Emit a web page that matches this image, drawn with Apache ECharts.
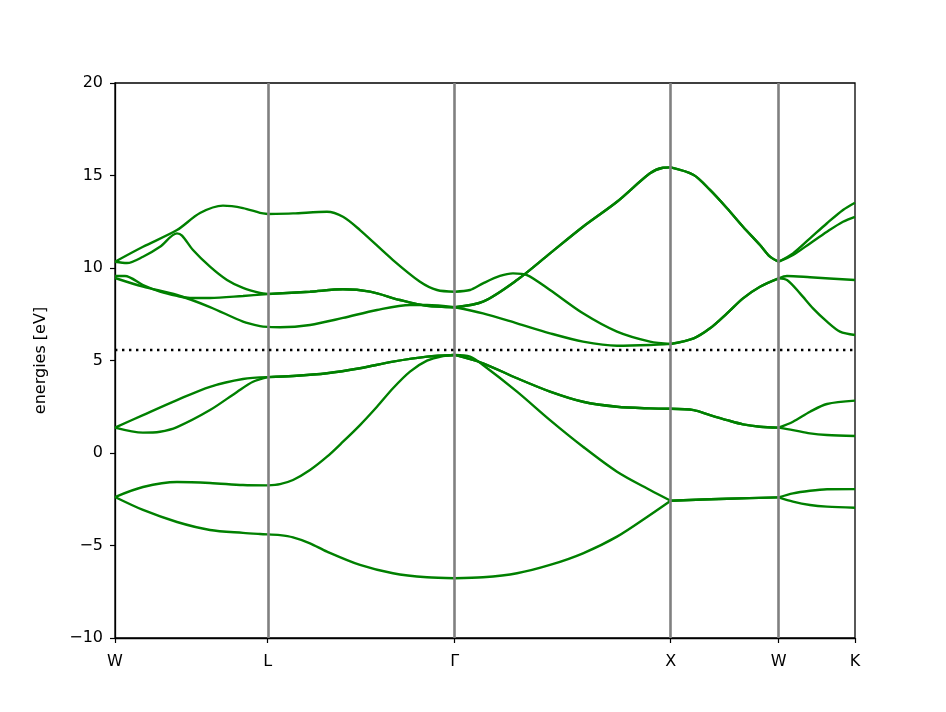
<!DOCTYPE html>
<html>
<head>
<meta charset="utf-8">
<script src="https://cdn.jsdelivr.net/npm/echarts@6/dist/echarts.min.js"></script>
<style>
  html, body { margin: 0; padding: 0; background: #ffffff; }
  #chart { width: 946px; height: 712px; }
</style>
</head>
<body>
<div id="chart"></div>
<script>
// High-symmetry points along the k-path (units of 2π/a)
const kTicks = [0, 0.7071, 1.5731, 2.5731, 3.0731, 3.4267];
const kLabels = ['W', 'L', 'Γ', 'X', 'W', 'K'];
const yTicks = [-10, -5, 0, 5, 10, 15, 20];
const fermiLevel = 5.56;

// Bands: [k, energy (eV)]
const band1 = [[0,-2.38],[0.1297,-3.08],[0.2871,-3.73],[0.4399,-4.16],[0.5927,-4.32],[0.6715,-4.38],[0.7071,-4.40],[0.7641,-4.44],[0.8243,-4.56],[0.903,-4.88],[0.9817,-5.33],[1.1345,-6.05],[1.2873,-6.5],[1.4448,-6.72],[1.5731,-6.77],[1.704,-6.72],[1.8615,-6.5],[2.0144,-6.05],[2.1672,-5.42],[2.3246,-4.52],[2.4774,-3.35],[2.5731,-2.58],[2.834,-2.47],[3.0731,-2.40],[3.1396,-2.63],[3.2183,-2.81],[3.297,-2.90],[3.4267,-2.96]];
const band2 = [[0,-2.38],[0.1297,-1.84],[0.2871,-1.57],[0.4399,-1.62],[0.5927,-1.73],[0.7071,-1.75],[0.7641,-1.68],[0.8243,-1.46],[0.903,-0.92],[0.9817,-0.20],[1.0558,0.61],[1.1345,1.51],[1.2132,2.50],[1.2873,3.50],[1.3661,4.40],[1.4448,4.99],[1.5189,5.24],[1.5731,5.30],[1.6438,5.21],[1.704,4.76],[1.8615,3.32],[2.0144,1.78],[2.1672,0.34],[2.3246,-1.01],[2.4774,-2.00],[2.5731,-2.58],[2.834,-2.47],[3.0731,-2.40],[3.1396,-2.18],[3.2183,-2.04],[3.297,-1.96],[3.4267,-1.95]];
const band3 = [[0,1.37],[0.1297,1.10],[0.2084,1.15],[0.2871,1.40],[0.4399,2.32],[0.5649,3.30],[0.639,3.85],[0.7071,4.10],[0.8243,4.16],[0.9817,4.31],[1.1345,4.58],[1.2873,4.94],[1.4448,5.21],[1.5731,5.30],[1.704,4.85],[1.8615,4.04],[2.0144,3.32],[2.1672,2.77],[2.3246,2.50],[2.4774,2.41],[2.5731,2.39],[2.6797,2.32],[2.7553,2.05],[2.834,1.78],[2.9081,1.55],[2.9868,1.42],[3.0731,1.37],[3.1396,1.24],[3.2183,1.06],[3.297,0.97],[3.4267,0.92]];
const band4 = [[0,1.37],[0.1297,2.05],[0.2871,2.86],[0.4399,3.58],[0.5927,4.00],[0.7071,4.10],[0.8243,4.16],[0.9817,4.31],[1.1345,4.58],[1.2873,4.94],[1.4448,5.21],[1.5731,5.30],[1.704,4.85],[1.8615,4.04],[2.0144,3.32],[2.1672,2.77],[2.3246,2.50],[2.4774,2.41],[2.5731,2.39],[2.6797,2.32],[2.7553,2.05],[2.834,1.78],[2.9081,1.55],[2.9868,1.42],[3.0731,1.37],[3.1396,1.69],[3.2183,2.23],[3.297,2.65],[3.4267,2.83]];
const band5 = [[0,9.46],[0.1297,8.99],[0.2871,8.54],[0.4399,7.89],[0.5927,7.10],[0.6715,6.86],[0.7071,6.82],[0.7641,6.80],[0.903,6.92],[1.0558,7.30],[1.2132,7.73],[1.3661,8.00],[1.4448,8.00],[1.5731,7.88],[1.704,7.55],[1.8615,7.01],[2.0144,6.47],[2.1672,6.02],[2.3246,5.80],[2.4774,5.84],[2.5731,5.90],[2.6797,6.20],[2.7553,6.74],[2.834,7.55],[2.9081,8.36],[2.9868,8.99],[3.0731,9.44],[3.1118,9.35],[3.172,8.63],[3.2322,7.82],[3.297,7.10],[3.3572,6.56],[3.4267,6.38]];
const band6 = [[0,9.57],[0.0463,9.57],[0.1297,9.08],[0.2084,8.72],[0.2871,8.49],[0.3473,8.38],[0.4399,8.38],[0.5927,8.49],[0.7071,8.59],[0.903,8.72],[1.0558,8.85],[1.1808,8.72],[1.3197,8.27],[1.4448,7.95],[1.5731,7.88],[1.704,8.18],[1.8615,9.35],[2.0144,10.79],[2.1672,12.23],[2.3246,13.58],[2.4774,15.12],[2.5376,15.42],[2.5731,15.44],[2.6797,15.03],[2.7553,14.22],[2.834,13.23],[2.9081,12.23],[2.9868,11.24],[3.0331,10.61],[3.0731,10.34],[3.1396,10.70],[3.2183,11.33],[3.297,11.96],[3.3711,12.50],[3.4267,12.77]];
const band7 = [[0,10.34],[0.0556,10.27],[0.1297,10.61],[0.2084,11.15],[0.2871,11.87],[0.3103,11.75],[0.3612,10.97],[0.4399,10.07],[0.5186,9.35],[0.5927,8.92],[0.6715,8.65],[0.7071,8.60],[0.903,8.72],[1.0558,8.85],[1.1808,8.72],[1.3197,8.27],[1.4448,7.95],[1.5731,7.88],[1.704,8.18],[1.8615,9.35],[2.0144,10.79],[2.1672,12.23],[2.3246,13.58],[2.4774,15.12],[2.5376,15.42],[2.5731,15.44],[2.6797,15.03],[2.7553,14.22],[2.834,13.23],[2.9081,12.23],[2.9868,11.24],[3.0331,10.61],[3.0731,10.34],[3.1396,10.79],[3.2183,11.60],[3.297,12.42],[3.3711,13.14],[3.4267,13.53]];
const band8 = [[0,10.34],[0.1297,11.15],[0.2871,12.05],[0.3936,12.97],[0.5001,13.37],[0.5927,13.24],[0.6715,12.98],[0.7071,12.92],[0.8243,12.95],[0.9817,13.04],[1.0558,12.77],[1.1345,12.05],[1.2873,10.43],[1.4124,9.26],[1.4911,8.81],[1.5731,8.72],[1.6438,8.81],[1.704,9.17],[1.7828,9.57],[1.843,9.71],[1.9079,9.62],[2.0144,8.81],[2.1672,7.55],[2.3246,6.56],[2.4774,6.02],[2.5731,5.89],[2.6797,6.20],[2.7553,6.74],[2.834,7.55],[2.9081,8.36],[2.9868,8.99],[3.0731,9.44],[3.1118,9.57],[3.2183,9.50],[3.4267,9.35]];

const bands = [band1, band2, band3, band4, band5, band6, band7, band8];

const FONT = 'DejaVu Sans';
const chart = echarts.init(document.getElementById('chart'), null, { renderer: 'canvas' });

// Split every band at the high-symmetry points so that smoothing never crosses them
const bandSeries = [];
bands.forEach((b, i) => {
  for (let s = 0; s < kTicks.length - 1; s++) {
    const lo = kTicks[s] - 1e-6, hi = kTicks[s + 1] + 1e-6;
    const seg = b.filter(p => p[0] >= lo && p[0] <= hi);
    bandSeries.push({
      type: 'line',
      name: 'band' + (i + 1),
      data: seg,
      showSymbol: false,
      smooth: 0.3,
      lineStyle: { color: '#008000', width: 2.4 },
      z: 3,
      silent: true
    });
  }
});

const guideSeries = {
  type: 'line',
  data: [],
  z: 2,
  silent: true,
  markLine: {
    silent: true,
    symbol: ['none', 'none'],
    animation: false,
    label: { show: false },
    data: kTicks.slice(1, kTicks.length - 1).map(k => ({
      xAxis: k,
      lineStyle: { color: '#808080', width: 2.6, type: 'solid' }
    })).concat([{
      yAxis: fermiLevel,
      lineStyle: { color: '#000000', width: 2.4, type: [2.4, 4.6] }
    }])
  }
};

chart.setOption({
  animation: false,
  backgroundColor: '#ffffff',
  grid: {
    left: 115, right: 91, top: 83, bottom: 74,
    show: true, borderColor: '#000000', borderWidth: 1.3,
    backgroundColor: 'transparent'
  },
  xAxis: {
    type: 'value',
    min: kTicks[0],
    max: kTicks[kTicks.length - 1],
    splitLine: { show: false },
    axisLine: { show: true, onZero: false, lineStyle: { color: '#000', width: 1.3 } },
    axisTick: { show: true, customValues: kTicks, length: 5, lineStyle: { color: '#000', width: 1.2 } },
    axisLabel: {
      customValues: kTicks,
      margin: 16,
      color: '#000',
      fontFamily: FONT,
      fontSize: 16,
      formatter: function (v) {
        let best = 0, d = Infinity;
        kTicks.forEach((k, i) => { if (Math.abs(k - v) < d) { d = Math.abs(k - v); best = i; } });
        return kLabels[best];
      }
    }
  },
  yAxis: {
    type: 'value',
    min: yTicks[0],
    max: yTicks[yTicks.length - 1],
    interval: 5,
    name: 'energies [eV]',
    nameLocation: 'middle',
    nameGap: 66,
    nameTextStyle: { color: '#000', fontFamily: FONT, fontSize: 16 },
    splitLine: { show: false },
    axisLine: { show: true, lineStyle: { color: '#000', width: 1.3 } },
    axisTick: { show: true, length: 5, lineStyle: { color: '#000', width: 1.2 } },
    axisLabel: {
      margin: 12,
      color: '#000',
      fontFamily: FONT,
      fontSize: 16,
      formatter: v => String(v).replace('-', '\u2212')
    }
  },
  series: [guideSeries].concat(bandSeries)
});
</script>
</body>
</html>
